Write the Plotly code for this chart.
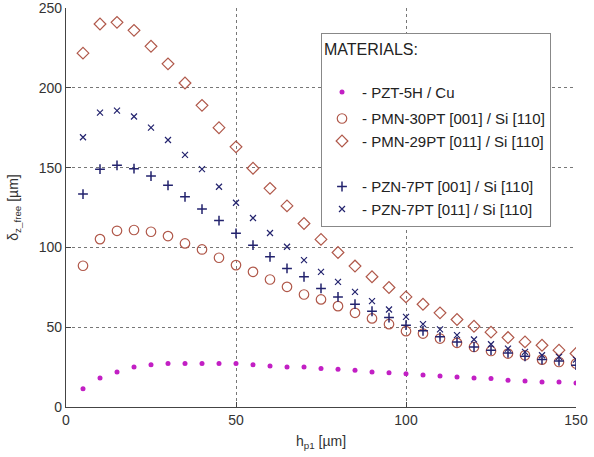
import plotly.graph_objects as go

hp1 = [5, 10, 15, 20, 25, 30, 35, 40, 45, 50, 55, 60, 65, 70, 75,
       80, 85, 90, 95, 100, 105, 110, 115, 120, 125, 130, 135, 140, 145, 150]

pzt5h_cu = [11.5, 18.2, 22.0, 25.1, 26.4, 27.2, 27.2, 27.2, 27.2, 27.2, 26.4, 25.7, 25.1, 25.1, 24.1,
            23.6, 23.0, 22.0, 21.4, 20.9, 20.1, 19.5, 18.8, 18.2, 17.8, 16.7, 16.3, 15.7, 15.7, 15.1]
pmn30_001 = [88.5, 105.2, 110.4, 110.9, 109.8, 107.1, 102.5, 98.7, 93.5, 88.9, 84.7, 79.9, 75.3, 70.5, 67.4,
             63.2, 59.0, 55.5, 51.9, 47.5, 46.0, 42.9, 40.2, 37.6, 35.1, 33.5, 32.4, 29.7, 28.2, 27.2]
pmn29_011 = [221.7, 240.0, 241.0, 236.0, 226.0, 215.0, 203.0, 189.0, 175.0, 163.0, 149.6, 137.0, 126.0, 115.0, 105.0,
             96.8, 88.3, 81.6, 74.9, 69.0, 64.4, 59.0, 54.8, 50.6, 46.9, 43.5, 40.8, 38.7, 35.6, 33.5]
pzn7_001 = [133.4, 149.0, 151.4, 149.3, 144.7, 138.9, 131.7, 124.0, 116.8, 108.8, 101.4, 94.1, 86.8, 81.6, 74.3,
            69.0, 64.4, 60.0, 56.0, 51.3, 47.7, 44.0, 40.8, 37.6, 35.6, 33.9, 31.8, 29.7, 28.9, 26.2]
pzn7_011 = [169.0, 184.4, 185.7, 182.0, 175.0, 167.3, 158.0, 149.0, 138.0, 128.0, 118.4, 109.0, 100.4, 92.0, 84.7,
            78.4, 72.1, 66.3, 61.1, 56.5, 51.9, 48.6, 45.0, 42.3, 39.3, 36.6, 34.5, 32.4, 31.4, 29.7]

names = ["- PZT-5H / Cu", "- PMN-30PT [001] / Si [110]", "- PMN-29PT [011] / Si [110]",
         "- PZN-7PT [001] / Si [110]", "- PZN-7PT [011] / Si [110]"]

MAG = "#c21fc4"
BRN = "#b0584a"
NAVY = "#23236e"
FONT = "Liberation Sans, Arial, sans-serif"

fig = go.Figure()
fig.add_trace(go.Scatter(x=hp1, y=pzt5h_cu, mode="markers", name=names[0], legendgroup="g1",
                         marker=dict(symbol="circle", size=5, color=MAG)))
fig.add_trace(go.Scatter(x=hp1, y=pmn30_001, mode="markers", name=names[1], legendgroup="g2",
                         marker=dict(symbol="circle-open", size=9.5, color=BRN, line=dict(width=1.2))))
fig.add_trace(go.Scatter(x=hp1, y=pmn29_011, mode="markers", name=names[2], legendgroup="g2",
                         marker=dict(symbol="diamond-open", size=9, color=BRN, line=dict(width=1.2))))
fig.add_trace(go.Scatter(x=hp1, y=pzn7_001, mode="markers", name=names[3], legendgroup="g3",
                         legendgrouptitle=dict(text=" ", font=dict(size=2)),
                         marker=dict(symbol="cross-thin-open", size=7, color=NAVY, line=dict(width=1.5, color=NAVY))))
fig.add_trace(go.Scatter(x=hp1, y=pzn7_011, mode="markers", name=names[4], legendgroup="g3",
                         marker=dict(symbol="x-thin-open", size=6, color=NAVY, line=dict(width=1.2, color=NAVY))))

axis_common = dict(
    showgrid=True, gridcolor="#777", griddash="dot", gridwidth=1,
    showline=True, linecolor="#444", linewidth=1.2, mirror=False,
    ticks="inside", ticklen=5, tickcolor="#444",
    tickfont=dict(family=FONT, size=14, color="#333"),
    zeroline=False, automargin=False, ticklabeloverflow="allow",
)

fig.update_xaxes(range=[0, 150], tickvals=[0, 50, 100, 150], **axis_common,
                 title=dict(text="h<sub>p1</sub> [µm]", standoff=9,
                            font=dict(family=FONT, size=14, color="#333")))
fig.update_yaxes(range=[0, 250], tickvals=[0, 50, 100, 150, 200, 250], **axis_common,
                 title=dict(text="δ<sub>z_free</sub> [µm]", standoff=16,
                            font=dict(family=FONT, size=14, color="#333")))

fig.update_layout(
    width=594, height=457,
    margin=dict(l=66, r=18, t=8, b=50, autoexpand=False),
    paper_bgcolor="white", plot_bgcolor="white",
    font=dict(family=FONT, color="#222"),
    legend=dict(
        x=0.5, y=0.937, xanchor="left", yanchor="top",
        bgcolor="white", bordercolor="#888", borderwidth=1,
        font=dict(size=15, color="#222"),
        title=dict(text="MATERIALS:<br> ", font=dict(size=16, color="#222")),
        traceorder="grouped", tracegroupgap=4, itemsizing="trace",
    ),
    showlegend=True,
)

fig.write_html("out.html", config={"displayModeBar": False},
               post_script="document.body.style.margin='0px';")
